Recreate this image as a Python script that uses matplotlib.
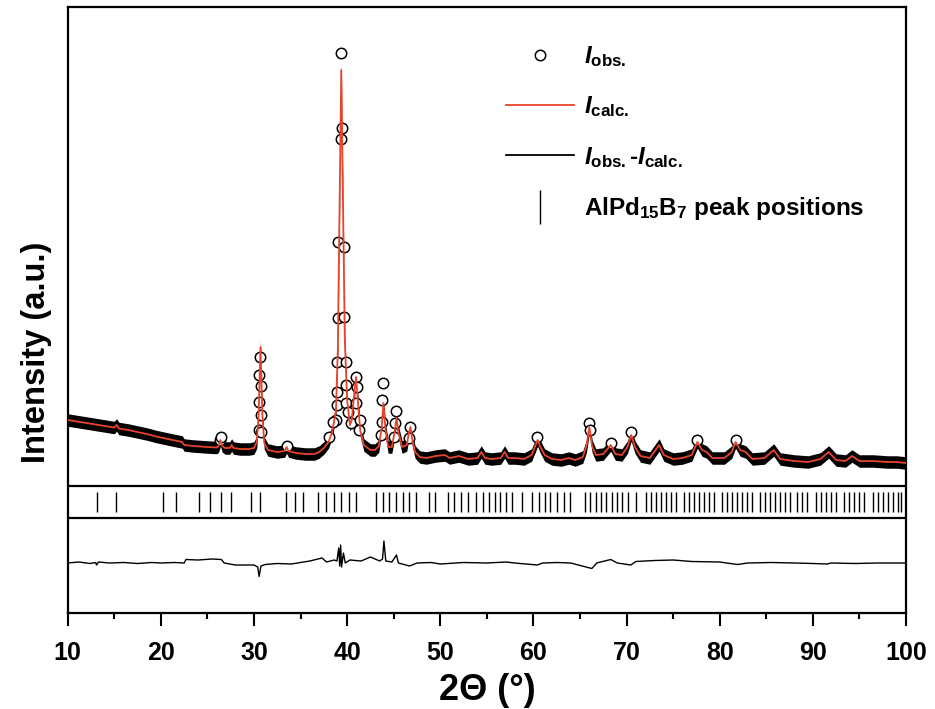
import numpy as np
import matplotlib
matplotlib.use('Agg')
import matplotlib.pyplot as plt
from matplotlib.lines import Line2D

# calculated profile (2theta, counts)
two_theta = [10.0, 11.0, 12.0, 13.0, 14.0, 15.0, 15.25, 15.5, 16.5, 17.5, 18.5, 19.5, 20.5, 21.5,
             22.3, 22.5, 23.5, 25.0, 26.0, 26.2, 26.4, 26.6, 26.9, 27.4, 27.6, 27.8, 28.5, 29.5,
             30.0, 30.3, 30.5, 30.7, 30.9, 31.1, 31.5, 32.5, 33.3, 33.5, 33.7, 34.5, 35.5, 36.5,
             37.0, 37.5, 38.0, 38.4, 38.8, 39.0, 39.2, 39.37, 39.55, 39.75, 40.0, 40.3, 40.5, 40.75,
             40.95, 41.15, 41.4, 41.8, 42.5, 43.0, 43.4, 43.7, 43.9, 44.1, 44.4, 44.8, 45.1, 45.3,
             45.5, 45.9, 46.4, 46.65, 46.8, 47.0, 47.3, 47.8, 48.5, 49.5, 50.5, 51.0, 52.0, 53.0,
             54.0, 54.4, 54.8, 55.5, 56.5, 56.9, 57.3, 58.0, 59.0, 59.8, 60.2, 60.45, 60.7, 61.2,
             62.0, 63.0, 63.8, 64.5, 65.3, 65.7, 66.0, 66.3, 66.7, 67.5, 68.3, 68.8, 69.5, 70.1,
             70.5, 70.9, 71.5, 72.5, 73.5, 74.0, 75.0, 76.0, 77.0, 77.6, 78.1, 78.6, 79.2, 80.5,
             81.3, 81.7, 82.2, 82.8, 83.5, 84.8, 85.8, 86.5, 88.0, 89.5, 90.8, 91.7, 92.5, 93.5,
             94.2, 95.0, 96.5, 98.0, 99.0, 100.0]
i_calc = [2200, 2170, 2140, 2110, 2080, 2050, 2100, 2030, 2000, 1960, 1920, 1870, 1830, 1790,
          1760, 1700, 1680, 1660, 1650, 1680, 1800, 1680, 1640, 1640, 1700, 1640, 1620, 1620,
          1640, 1760, 2300, 3660, 2300, 1740, 1600, 1560, 1580, 1660, 1580, 1540, 1520, 1520,
          1560, 1640, 1760, 1960, 2400, 3600, 6600, 9200, 6600, 3800, 2600, 2100, 2200, 2700,
          3060, 2600, 2000, 1700, 1600, 1600, 1680, 2040, 2540, 2040, 1660, 1660, 1960, 2240,
          1960, 1660, 1700, 1960, 2060, 1800, 1560, 1460, 1440, 1480, 1500, 1440, 1480, 1420,
          1440, 1560, 1440, 1420, 1440, 1560, 1440, 1440, 1420, 1500, 1680, 1800, 1680, 1500,
          1420, 1400, 1440, 1400, 1460, 1680, 2060, 1680, 1500, 1520, 1700, 1520, 1500, 1660,
          1900, 1660, 1480, 1440, 1700, 1500, 1420, 1440, 1500, 1760, 1600, 1560, 1440, 1440,
          1560, 1760, 1600, 1560, 1420, 1440, 1600, 1420, 1380, 1360, 1420, 1560, 1400, 1380,
          1480, 1380, 1380, 1360, 1360, 1340]

# observed points standing clear of the dense band
obs_x = [26.35, 26.45, 30.62, 30.58, 30.70, 30.55, 30.72, 30.52, 30.80,
         39.37, 39.43, 39.35, 39.00, 39.65, 39.00, 39.65, 38.90, 39.83, 38.90, 39.83,
         38.90, 39.90, 38.83, 40.07, 38.47, 38.04, 40.44,
         40.90, 41.04, 40.90, 41.33, 41.25, 43.90, 43.76, 43.76, 43.65,
         45.26, 45.19, 45.08, 46.76, 46.69,
         33.5, 60.4, 66.0, 66.05, 68.3, 70.5, 77.6, 81.7]
obs_y = [1800, 1860, 3460, 3100, 2880, 2560, 2300, 2000, 1960,
         9540, 8040, 7820, 5760, 5660, 4240, 4260, 3360, 3360, 2760, 2900,
         2500, 2540, 2200, 2360, 2160, 1860, 2140,
         3060, 2860, 2540, 2200, 2000, 2940, 2600, 2160, 1900,
         2380, 2140, 1860, 2060, 1840,
         1680, 1860, 2140, 2000, 1740, 1960, 1800, 1800]

# difference curve
diff_x = [10.0, 11.2, 12.4, 13.0, 13.1, 13.3, 14.5, 16.0, 17.5, 19.0, 20.0, 21.5, 22.5, 22.7,
          24.0, 25.5, 26.5, 26.8, 28.0, 30.0, 30.4, 30.55, 30.75, 31.2, 32.5, 34.0, 35.0, 36.0,
          37.3, 37.8, 38.6, 38.9, 39.1, 39.2, 39.3, 39.4, 39.6, 39.8, 40.3, 41.5, 42.5, 43.5,
          43.8, 43.95, 44.15, 44.8, 45.3, 45.5, 46.7, 47.5, 49.0, 50.0, 52.5, 55.0, 57.05, 58.0,
          60.4, 61.0, 62.5, 64.0, 66.27, 66.8, 68.3, 69.0, 70.45, 71.0, 73.0, 75.0, 77.0, 80.0,
          81.9, 83.0, 85.5, 88.0, 90.0, 91.5, 92.0, 94.5, 97.0, 100.0]
diff_y = [0, 20, -10, 10, -40, 20, 0, 10, -10, 10, 0, 10, 0, 70,
          60, 80, 70, 0, -40, -40, -80, -270, -60, -30, -10, -20, 10, 40,
          100, 20, 60, 40, 300, -60, 360, -80, 200, 0, 60, 40, 120, 40,
          80, 440, 40, 20, 160, 0, -60, 0, 10, -20, 10, 0, 20, 0,
          -40, 0, 10, 0, -110, 0, 70, 0, -40, 30, 50, 60, 30, 20,
          -30, 0, 10, 0, -10, -20, 0, -10, 0, 0]
diff_offset = -660

# AlPd15B7 reflection positions
peak_pos = [13.11, 15.18, 20.18, 21.58, 24.10, 25.33, 26.51, 27.58, 29.65, 30.61, 33.47, 34.36,
            35.25, 36.86, 37.76, 38.54, 39.37, 40.18, 40.97, 43.12, 43.83, 44.54, 45.26, 45.97,
            46.69, 47.41, 48.76, 49.47, 50.79, 51.51, 52.23, 52.94, 53.84, 54.54, 55.21, 55.85,
            56.44, 57.08, 57.65, 58.77, 59.90, 60.55, 61.19, 61.83, 62.48, 63.30, 63.91, 65.55,
            66.12, 66.70, 67.27, 67.83, 68.41, 68.98, 69.55, 70.13, 70.99, 72.06, 72.59, 73.13,
            73.67, 74.20, 74.74, 75.27, 76.16, 76.70, 77.24, 77.77, 78.31, 78.85, 79.38, 80.20,
            80.74, 81.28, 81.81, 82.35, 82.88, 83.42, 84.31, 84.84, 85.38, 85.92, 86.45, 86.99,
            87.52, 88.31, 88.84, 89.38, 90.34, 90.88, 91.41, 91.95, 92.49, 93.39, 93.92, 94.46,
            94.99, 95.53, 96.42, 96.95, 97.49, 98.03, 98.56, 99.10, 99.50]

red = '#e8432b'

plt.rcParams['font.family'] = 'Liberation Sans'
plt.rcParams['font.weight'] = 'bold'
plt.rcParams['mathtext.fontset'] = 'custom'
plt.rcParams['mathtext.rm'] = 'Liberation Sans:bold'
plt.rcParams['mathtext.it'] = 'Liberation Sans:italic:bold'
plt.rcParams['mathtext.bf'] = 'Liberation Sans:bold'

fig = plt.figure(figsize=(9.35, 7.09), dpi=100)
ax = fig.add_axes([0.0724, 0.1354, 0.8966, 0.8547])

calc = np.array(i_calc)
# dense observed band around the fit
ax.fill_between(two_theta, calc - 125, calc + 125, color='black', lw=0, zorder=2)
ax.plot(obs_x, obs_y, 'o', ms=7.5, mfc='white', mec='black', mew=1.1, zorder=3)
ax.plot(two_theta, calc, color=red, lw=1.3, zorder=4)
ax.plot(diff_x, np.array(diff_y) + diff_offset, color='black', lw=1.0)
ax.vlines(peak_pos, 360, 760, color='black', lw=1.0)
ax.axhline(880, color='black', lw=1.6)
ax.axhline(240, color='black', lw=1.6)

ax.set_xlim(10, 100)
ax.set_ylim(-1660, 10460)
ax.set_xticks(np.arange(10, 101, 10))
ax.set_xticks(np.arange(15, 100, 10), minor=True)
ax.set_yticks([])
ax.tick_params(axis='x', which='major', direction='out', length=9, width=1.5, labelsize=18, pad=11)
ax.tick_params(axis='x', which='minor', direction='out', length=4.5, width=1.5)
for s in ax.spines.values():
    s.set_linewidth(1.6)

ax.set_xlabel('2Θ (°)', fontsize=26, fontweight='bold', labelpad=6)
ax.set_ylabel('Intensity (a.u.)', fontsize=23.5, fontweight='bold')
ax.yaxis.set_label_coords(-0.019, 0.43)

h_obs = Line2D([], [], marker='o', ls='None', ms=7.5, mfc='white', mec='black', mew=1.1)
h_calc = Line2D([], [], color=red, lw=1.3)
h_diff = Line2D([], [], color='black', lw=1.3)
h_pos = Line2D([], [], marker='|', ls='None', ms=24, mew=1.0, color='black')
ax.legend([h_obs, h_calc, h_diff, h_pos],
          [r'$I_{\rm obs.}$', r'$I_{\rm calc.}$', r'$I_{\rm obs.}$-$I_{\rm calc.}$',
           r'AlPd$_{15}$B$_{7}$ peak positions'],
          loc='upper left', bbox_to_anchor=(0.497, 0.975), frameon=False, fontsize=17.5,
          handlelength=2.8, handletextpad=0.4, labelspacing=1.05)

fig.savefig('out.png', dpi=100)
